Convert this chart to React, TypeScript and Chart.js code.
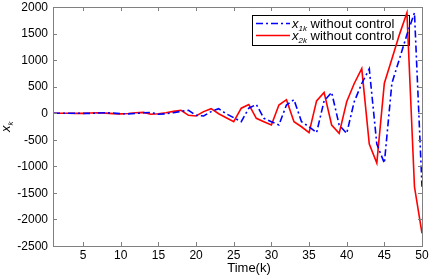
import React, { useEffect, useRef } from "react";
import { Chart, registerables } from "chart.js";

Chart.register(...registerables);

const timeSteps = [
  1, 2, 3, 4, 5, 6, 7, 8, 9, 10, 11, 12, 13, 14, 15, 16, 17, 18, 19, 20, 21, 22, 23, 24, 25,
  26, 27, 28, 29, 30, 31, 32, 33, 34, 35, 36, 37, 38, 39, 40, 41, 42, 43, 44, 45, 46, 47, 48, 49, 50,
];

// x_{1k} without control (blue, dash-dot)
const x1Values = [
  0, 0, 0, 0, -2, -3, 3, 8, 2, -8, -12, -5, 8, 15, -20, -10, 10, 35, 55, -40, -53, 30, 85, -10, -85,
  -160, 95, 165, -95, -160, -222, 155, 255, -160, -255, -367, 232, 393, -222, -380, 217, 560, 835, -580, -940,
  565, 1020, 1480, 1890, -1385,
];

// x_{2k} without control (red, solid)
const x2Values = [
  0, 0, 0, -2, -3, 3, 8, 2, -8, -12, -5, 8, 15, -20, -10, 10, 35, 55, -40, -53, 30, 85, -10, -85, -160,
  95, 165, -95, -160, -222, 155, 255, -160, -255, -367, 232, 393, -222, -380, 217, 560, 840, -580, -940, 565,
  1020, 1480, 1890, -1385, -2260,
];

const xTickValues = [5, 10, 15, 20, 25, 30, 35, 40, 45, 50];
const yTickValues = [-2500, -2000, -1500, -1000, -500, 0, 500, 1000, 1500, 2000];

const seriesNames = ["1k", "2k"];
const legendSuffix = " without control";
const xAxisTitle = "Time(k)";
const yAxisVar = "x";
const yAxisSub = "k";

const FONT = "Arial, 'Liberation Sans', sans-serif";
const AXIS_GREY = "#808080";
const DASH_DOT = [7, 3, 2, 3];

const framePlugin = {
  id: "frameAndLabels",
  beforeDatasetsDraw(chart: any) {
    const { ctx } = chart;
    // legend box (drawn beneath the lines)
    const lx = 252, ly = 15, lw = 157, lh = 30;
    ctx.save();
    ctx.fillStyle = "#ffffff";
    ctx.fillRect(lx, ly, lw, lh);
    ctx.strokeStyle = "#000000";
    ctx.lineWidth = 1;
    ctx.strokeRect(lx + 0.5, ly + 0.5, lw, lh);
    const rows = [
      { y: ly + 8.5, color: "#0000ff", dash: DASH_DOT, sub: seriesNames[0] },
      { y: ly + 20.5, color: "#ff0000", dash: [], sub: seriesNames[1] },
    ];
    rows.forEach((r) => {
      ctx.beginPath();
      ctx.setLineDash(r.dash);
      ctx.strokeStyle = r.color;
      ctx.lineWidth = 1.6;
      ctx.moveTo(lx + 4, r.y);
      ctx.lineTo(lx + 38, r.y);
      ctx.stroke();
      ctx.setLineDash([]);
      ctx.fillStyle = "#000";
      ctx.textBaseline = "alphabetic";
      ctx.textAlign = "left";
      ctx.font = `italic 13px ${FONT}`;
      let tx = lx + 40;
      ctx.fillText("x", tx, r.y + 4.5);
      tx += ctx.measureText("x").width;
      ctx.font = `italic 8px ${FONT}`;
      ctx.fillText(r.sub, tx, r.y + 7.5);
      tx += ctx.measureText(r.sub).width;
      ctx.font = `13px ${FONT}`;
      ctx.fillText(legendSuffix, tx, r.y + 4.5);
    });
    ctx.restore();
  },
  afterDraw(chart: any) {
    const { ctx, chartArea } = chart;
    const { left, right, top, bottom } = chartArea;
    const xs = chart.scales.x;
    const ys = chart.scales.y;
    ctx.save();
    ctx.strokeStyle = AXIS_GREY;
    ctx.lineWidth = 1;
    ctx.strokeRect(Math.round(left) + 0.5, Math.round(top) + 0.5, Math.round(right - left), Math.round(bottom - top));
    ctx.beginPath();
    const tl = 4;
    xTickValues.forEach((v) => {
      const px = Math.round(xs.getPixelForValue(v)) + 0.5;
      ctx.moveTo(px, bottom);
      ctx.lineTo(px, bottom - tl);
      ctx.moveTo(px, top);
      ctx.lineTo(px, top + tl);
    });
    yTickValues.forEach((v) => {
      const py = Math.round(ys.getPixelForValue(v)) + 0.5;
      ctx.moveTo(left, py);
      ctx.lineTo(left + tl, py);
      ctx.moveTo(right, py);
      ctx.lineTo(right - tl, py);
    });
    ctx.stroke();

    // tick labels
    ctx.fillStyle = "#000";
    ctx.font = `12px ${FONT}`;
    ctx.textAlign = "center";
    ctx.textBaseline = "middle";
    xTickValues.forEach((v) => {
      ctx.fillText(String(v), xs.getPixelForValue(v), bottom + 10);
    });
    ctx.textAlign = "right";
    yTickValues.forEach((v) => {
      ctx.fillText(String(v), left - 5, ys.getPixelForValue(v) + 0.5);
    });

    // x axis title
    ctx.font = `13px ${FONT}`;
    ctx.textAlign = "center";
    ctx.textBaseline = "middle";
    ctx.fillText(xAxisTitle, 249, 268);

    // y axis title (rotated)
    ctx.translate(10, 127);
    ctx.rotate(-Math.PI / 2);
    ctx.textAlign = "left";
    ctx.textBaseline = "alphabetic";
    ctx.font = `italic 13px ${FONT}`;
    const w = ctx.measureText(yAxisVar).width;
    ctx.fillText(yAxisVar, -5, 0);
    ctx.font = `italic 8px ${FONT}`;
    ctx.fillText(yAxisSub, -5 + w, 3);
    ctx.restore();
  },
};

export default function App() {
  const ref = useRef<HTMLCanvasElement | null>(null);

  useEffect(() => {
    document.body.style.margin = "0";
    const canvas = ref.current;
    if (!canvas) return;
    const chart = new Chart(canvas, {
      type: "line",
      data: {
        datasets: [
          {
            label: "x1k without control",
            data: timeSteps.map((k, i) => ({ x: k, y: x1Values[i] })),
            borderColor: "#0000ff",
            borderWidth: 1.6,
            borderDash: DASH_DOT,
            pointRadius: 0,
            tension: 0,
            fill: false,
          },
          {
            label: "x2k without control",
            data: timeSteps.map((k, i) => ({ x: k, y: x2Values[i] })),
            borderColor: "#ff0000",
            borderWidth: 1.6,
            pointRadius: 0,
            tension: 0,
            fill: false,
          },
        ],
      },
      options: {
        animation: false,
        responsive: false,
        maintainAspectRatio: false,
        layout: { padding: { left: 0, right: 7, top: 7, bottom: 0 } },
        plugins: {
          legend: { display: false },
          tooltip: { enabled: false },
        },
        scales: {
          x: {
            type: "linear",
            min: 1,
            max: 50,
            afterBuildTicks: (s: any) => {
              s.ticks = xTickValues.map((v) => ({ value: v }));
            },
            afterFit: (s: any) => {
              s.height = 30;
            },
            grid: { display: false, drawTicks: false },
            border: { display: false },
            ticks: { display: false },
          },
          y: {
            type: "linear",
            min: -2500,
            max: 2000,
            afterBuildTicks: (s: any) => {
              s.ticks = yTickValues.map((v) => ({ value: v }));
            },
            afterFit: (s: any) => {
              s.width = 53;
            },
            grid: { display: false, drawTicks: false },
            border: { display: false },
            ticks: { display: false },
          },
        },
      },
      plugins: [framePlugin],
    });
    return () => chart.destroy();
  }, []);

  return (
    <div style={{ width: 429, height: 276 }}>
      <canvas ref={ref} width={429} height={276} style={{ width: 429, height: 276, display: "block" }} />
    </div>
  );
}
